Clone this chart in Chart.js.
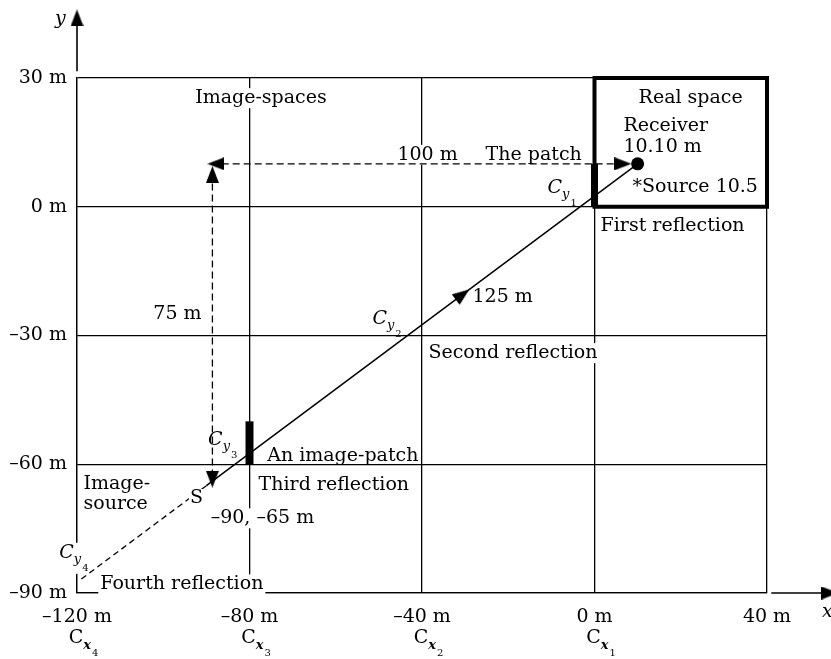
<!DOCTYPE html>
<html>
<head>
<meta charset="utf-8">
<script src="https://cdn.jsdelivr.net/npm/chart.js@4.4.1/dist/chart.umd.min.js"></script>
<style>
html, body { margin: 0; padding: 0; background: #fff; }
#wrap { width: 831px; height: 659px; position: relative; }
</style>
</head>
<body>
<div id="wrap"><canvas id="c"></canvas></div>
<script>
// ---------------- data (metres) ----------------
const xTickValues = [-120, -80, -40, 0, 40];
const xTickLabels = ['–120 m', '–80 m', '–40 m', '0 m', '40 m'];
const xReflectionIndex = ['4', '3', '2', '1', ''];
const yTickValues = [-90, -60, -30, 0, 30];
const yTickLabels = ['–90 m', '–60 m', '–30 m', '0 m', '30 m'];

const realSpaceX = [0, 0, 40, 40, 0];
const realSpaceY = [0, 30, 30, 0, 0];
const patchX = [0, 0];
const patchY = [0, 10];
const imagePatchX = [-80, -80];
const imagePatchY = [-60, -50];
const rayX = [-90, 10];
const rayY = [-65, 10];
const rayExtX = [-90, -119];
const rayExtY = [-65, -86.75];
const receiverX = [10];
const receiverY = [10];
const dist100X = [-89, 8];
const dist100Y = [10, 10];
const dist75X = [-88.6, -88.6];
const dist75Y = [8, -64];
const yAxisArrowX = [-120, -120];
const yAxisArrowY = [31.6, 44];
const xAxisArrowX = [41, 54];
const xAxisArrowY = [-90, -90];
// arrow-head anchor points
const arrowX = [-87.8, 6.6, -88.6, -88.6, -30.6, -120, 54.6];
const arrowY = [10, 10, 7.5, -63.5, -20.45, 44, -90];

function pts(xs, ys) { return xs.map((x, i) => ({ x: x, y: ys[i] })); }

// ---------------- styling ----------------
const FONT = '"DejaVu Serif", "Liberation Serif", serif';
const FS = 19;
const arrowRotation = [270, 90, 0, 180, 53.3, 0, 90];

const arrowImg = document.createElement('canvas');
arrowImg.width = 13; arrowImg.height = 17;
(function () {
  const g = arrowImg.getContext('2d');
  g.fillStyle = '#000';
  g.beginPath(); g.moveTo(6.5, 0); g.lineTo(13, 17); g.lineTo(0, 17); g.closePath(); g.fill();
})();

// annotation layout (text, anchor in metres)
const textNotes = [
  { t: 'Image-spaces', x: -92.6, y: 25.3, a: 'left', bg: true },
  { t: 'Real space', x: 22.3, y: 25.3, a: 'center' },
  { t: 'Receiver', x: 6.7, y: 18.9, a: 'left' },
  { t: '10.10 m', x: 6.7, y: 13.8, a: 'left' },
  { t: '*Source 10.5', x: 8.8, y: 4.7, a: 'left' },
  { t: 'First reflection', x: 1.4, y: -4.4, a: 'left' },
  { t: '100 m', x: -38.7, y: 12.1, a: 'center', bg: true },
  { t: 'The patch', x: -14.1, y: 12.1, a: 'center' },
  { t: '75 m', x: -96.7, y: -25, a: 'center' },
  { t: '125 m', x: -28.3, y: -21, a: 'left' },
  { t: 'Second reflection', x: -38.5, y: -34.1, a: 'left', bg: true },
  { t: 'An image-patch', x: -75.9, y: -58.1, a: 'left' },
  { t: 'Third reflection', x: -77.9, y: -64.9, a: 'left' },
  { t: 'Image-', x: -118.5, y: -64.7, a: 'left' },
  { t: 'source', x: -118.5, y: -69.3, a: 'left' },
  { t: '–90, –65 m', x: -77, y: -72.6, a: 'center', bg: true },
  { t: 'Fourth reflection', x: -114.6, y: -88, a: 'left', bg: true },
  { t: 'S', x: -92.3, y: -67.9, a: 'center', bg: true, late: true }
];
const subNotes = [
  { sub: 'y', idx: '1', x: -10.9, y: 3.3 },
  { sub: 'y', idx: '2', x: -51.5, y: -27.3 },
  { sub: 'y', idx: '3', x: -89.6, y: -55.5 },
  { sub: 'y', idx: '4', x: -124.1, y: -81.8, bg: true }
];

function drawC(ctx, x, y, sub, idx, italicMain, boldSub, d1, d2, measureOnly) {
  ctx.textAlign = 'left'; ctx.textBaseline = 'alphabetic';
  ctx.font = (italicMain ? 'italic ' : '') + FS + 'px ' + FONT;
  const w1 = ctx.measureText('C').width;
  ctx.font = (boldSub ? 'bold ' : '') + 'italic 13px ' + FONT;
  const w2 = ctx.measureText(sub).width;
  ctx.font = '10px ' + FONT;
  const w3 = ctx.measureText(idx).width;
  if (measureOnly) return w1 + w2 + w3 + 1;
  ctx.font = (italicMain ? 'italic ' : '') + FS + 'px ' + FONT;
  ctx.fillText('C', x, y);
  ctx.font = (boldSub ? 'bold ' : '') + 'italic 13px ' + FONT;
  ctx.fillText(sub, x + w1, y + d1);
  ctx.font = '10px ' + FONT;
  ctx.fillText(idx, x + w1 + w2 + 1, y + d2);
  return w1 + w2 + w3 + 1;
}

function noteBox(ctx, xs, ys, n) {
  ctx.font = FS + 'px ' + FONT;
  const w = ctx.measureText(n.t).width;
  const px = xs.getPixelForValue(n.x), py = ys.getPixelForValue(n.y);
  const left = n.a === 'center' ? px - w / 2 : px;
  return { left: left - 2, top: py - 10, w: w + 4, h: 20 };
}

const notesPlugin = {
  id: 'notes',
  beforeDatasetsDraw(chart) {
    const ctx = chart.ctx, xs = chart.scales.x, ys = chart.scales.y;
    ctx.save();
    ctx.fillStyle = '#fff';
    textNotes.filter(n => n.bg && !n.late).forEach(n => {
      const b = noteBox(ctx, xs, ys, n);
      ctx.fillRect(b.left, b.top, b.w, b.h);
    });
    subNotes.filter(n => n.bg).forEach(n => {
      const px = xs.getPixelForValue(n.x), py = ys.getPixelForValue(n.y);
      const w = drawC(ctx, px, py, n.sub, n.idx, true, false, 5, 13, true);
      ctx.fillStyle = '#fff';
      ctx.fillRect(px - 1, py - 15, w + 2, 31);
    });
    ctx.restore();
  },
  afterDatasetsDraw(chart) {
    const ctx = chart.ctx, xs = chart.scales.x, ys = chart.scales.y, ca = chart.chartArea;
    ctx.save();
    textNotes.forEach(n => {
      if (n.late) {
        const b = noteBox(ctx, xs, ys, n);
        ctx.fillStyle = '#fff';
        ctx.fillRect(b.left + 1, b.top + 1, b.w - 2, b.h - 2);
      }
      ctx.fillStyle = '#000';
      ctx.font = FS + 'px ' + FONT;
      ctx.textAlign = n.a;
      ctx.textBaseline = 'middle';
      ctx.fillText(n.t, xs.getPixelForValue(n.x), ys.getPixelForValue(n.y));
    });
    ctx.fillStyle = '#000';
    subNotes.forEach(n => {
      drawC(ctx, xs.getPixelForValue(n.x), ys.getPixelForValue(n.y), n.sub, n.idx, true, false, 5, 13, false);
    });
    // C_x labels under the x ticks
    xTickValues.forEach((v, i) => {
      if (!xReflectionIndex[i]) return;
      ctx.font = FS + 'px ' + FONT;
      const wC = ctx.measureText('C').width;
      const px = xs.getPixelForValue(v);
      drawC(ctx, px - wC / 2 - 1, ca.bottom + 50, 'x', xReflectionIndex[i], false, true, 6, 13, false);
    });
    // axis names
    ctx.font = 'italic ' + FS + 'px ' + FONT;
    ctx.textAlign = 'left';
    ctx.textBaseline = 'alphabetic';
    ctx.fillText('y', 55, 24);
    ctx.fillText('x', 822, 617);
    ctx.restore();
  }
};

const lineDs = (data, extra) => Object.assign({
  type: 'scatter', data: data, showLine: true, pointRadius: 0,
  borderColor: '#000', backgroundColor: '#000', borderWidth: 1.4,
  tension: 0, clip: false
}, extra || {});

new Chart(document.getElementById('c'), {
  type: 'scatter',
  data: {
    datasets: [
      lineDs(pts(realSpaceX, realSpaceY), { borderWidth: 4, borderJoinStyle: 'miter', borderCapStyle: 'square' }),
      lineDs(pts(patchX, patchY), { borderWidth: 7, borderCapStyle: 'butt' }),
      lineDs(pts(imagePatchX, imagePatchY), { borderWidth: 8, borderCapStyle: 'butt' }),
      lineDs(pts(rayX, rayY), { borderWidth: 1.5 }),
      lineDs(pts(rayExtX, rayExtY), { borderWidth: 1.3, borderDash: [6, 4] }),
      lineDs(pts(dist100X, dist100Y), { borderWidth: 1.3, borderDash: [7, 4] }),
      lineDs(pts(dist75X, dist75Y), { borderWidth: 1.3, borderDash: [7, 4] }),
      lineDs(pts(yAxisArrowX, yAxisArrowY), { borderWidth: 1.6 }),
      lineDs(pts(xAxisArrowX, xAxisArrowY), { borderWidth: 1.6 }),
      {
        type: 'scatter', data: pts(receiverX, receiverY), pointRadius: 6.5,
        pointStyle: 'circle', backgroundColor: '#000', borderColor: '#000', borderWidth: 0, clip: false
      },
      {
        type: 'scatter', data: pts(arrowX, arrowY), pointRadius: 90,
        pointStyle: arrowImg, pointRotation: arrowRotation, clip: false
      }
    ]
  },
  options: {
    responsive: true,
    maintainAspectRatio: false,
    animation: false,
    events: [],
    layout: { autoPadding: false, padding: { left: 0, right: 64, top: 78, bottom: 0 } },
    plugins: { legend: { display: false }, tooltip: { enabled: false }, title: { display: false } },
    scales: {
      x: {
        type: 'linear', min: -120, max: 40,
        afterBuildTicks: s => { s.ticks = xTickValues.map(v => ({ value: v })); },
        afterFit: s => { s.height = 66; },
        ticks: {
          color: '#000', font: { family: FONT, size: FS }, padding: 13, maxRotation: 0, autoSkip: false,
          callback: v => xTickLabels[xTickValues.indexOf(v)]
        },
        grid: { color: '#000', lineWidth: 1.3, drawTicks: false },
        border: { display: true, color: '#000', width: 1.3 }
      },
      y: {
        type: 'linear', min: -90, max: 30,
        afterBuildTicks: s => { s.ticks = yTickValues.map(v => ({ value: v })); },
        afterFit: s => { s.width = 77; },
        ticks: {
          color: '#000', font: { family: FONT, size: FS }, padding: 10, autoSkip: false,
          callback: v => yTickLabels[yTickValues.indexOf(v)]
        },
        grid: { color: '#000', lineWidth: 1.3, drawTicks: false },
        border: { display: true, color: '#000', width: 1.3 }
      }
    }
  },
  plugins: [notesPlugin]
});
</script>
</body>
</html>
